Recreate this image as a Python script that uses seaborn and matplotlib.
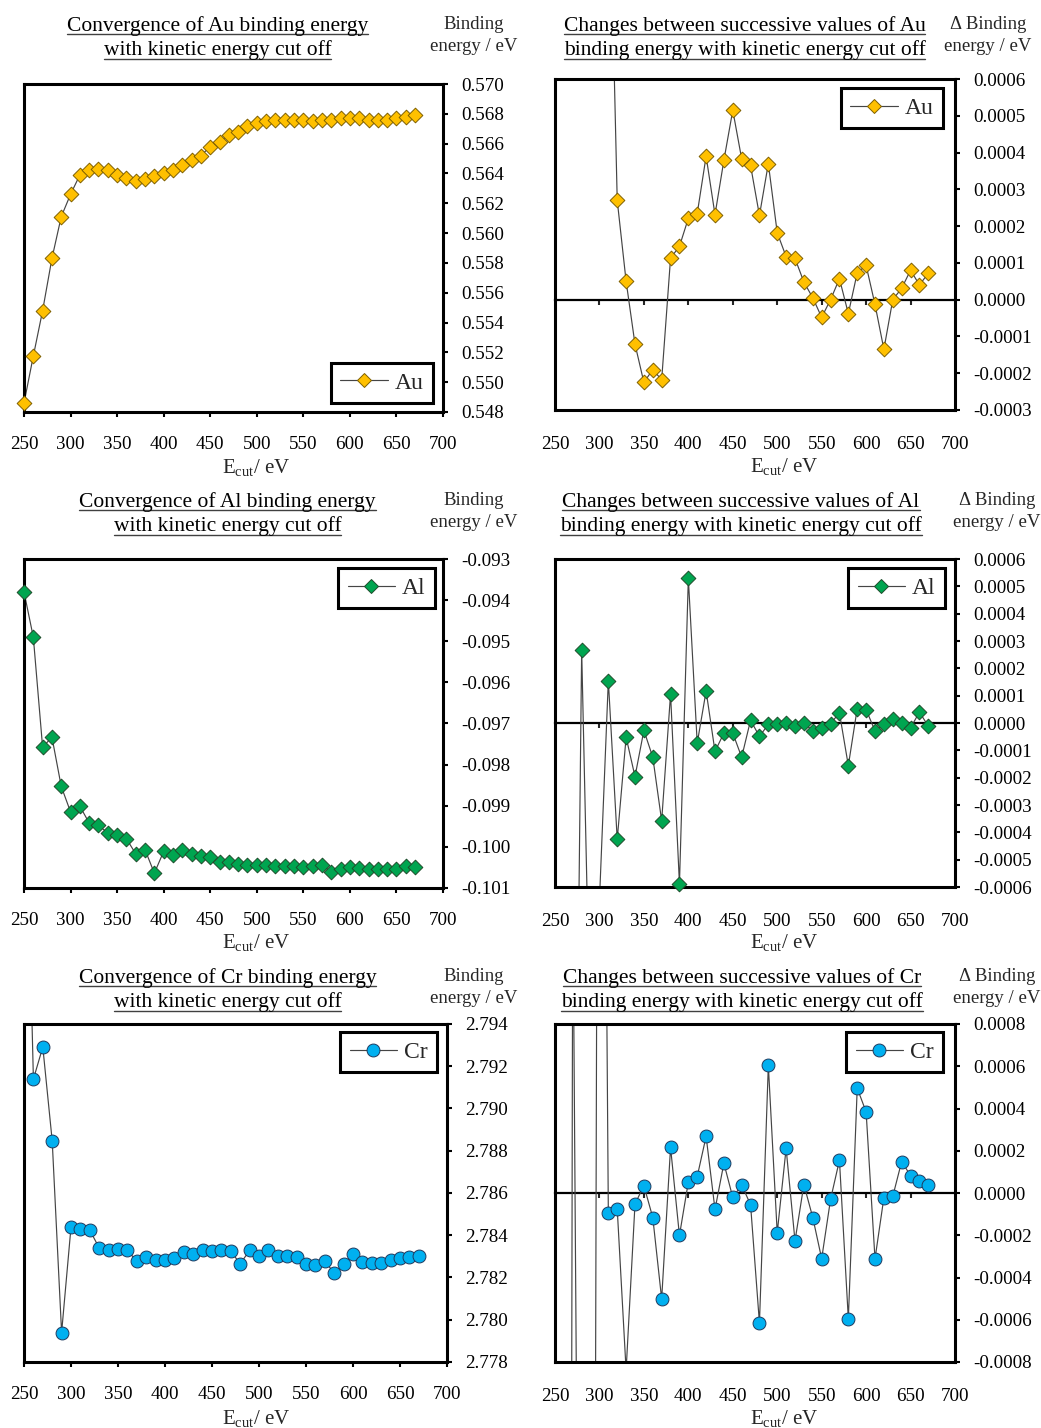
import numpy as np
import matplotlib
matplotlib.use("Agg")
import matplotlib.pyplot as plt
from matplotlib.lines import Line2D
from matplotlib.ticker import FuncFormatter
import seaborn as sns

# Kinetic energy cut-off grid (eV)
ecut = [250, 260, 270, 280, 290, 300, 310, 320, 330, 340, 350, 360, 370, 380,
        390, 400, 410, 420, 430, 440, 450, 460, 470, 480, 490, 500, 510, 520,
        530, 540, 550, 560, 570, 580, 590, 600, 610, 620, 630, 640, 650, 660, 670]
# successive differences start at the second cut-off
ecut_delta = ecut[1:]

# Au binding energy (eV)
au_binding = [0.5486, 0.55175, 0.5548, 0.5583, 0.5611, 0.5626, 0.5639, 0.5642,
              0.5643, 0.5642, 0.5639, 0.5637, 0.5635, 0.5636, 0.5638, 0.5640,
              0.5642, 0.5646, 0.5649, 0.5652, 0.5658, 0.5661, 0.5666, 0.5668,
              0.5672, 0.5674, 0.5675, 0.5676, 0.5676, 0.5676, 0.5676, 0.5675,
              0.5676, 0.5676, 0.5677, 0.5677, 0.5677, 0.5676, 0.5676, 0.5676,
              0.5677, 0.5678, 0.5679]
au_delta = [0.0032, 0.0030, 0.0035, 0.0028, 0.0015, 0.0013,
            0.000270, 0.000050, -0.000121, -0.000225, -0.000190, -0.000218,
            0.000113, 0.000145, 0.000221, 0.000234, 0.000390, 0.000231,
            0.000379, 0.000515, 0.000383, 0.000365, 0.000229, 0.000370,
            0.000182, 0.000117, 0.000112, 0.000048, 0.000005, -0.000048,
            0.000000, 0.000057, -0.000038, 0.000073, 0.000093, -0.000013,
            -0.000135, 0.000000, 0.000031, 0.000080, 0.000040, 0.000072]

# Al binding energy (eV)
al_binding = [-0.09380, -0.09490, -0.09758, -0.09733, -0.09853, -0.09915,
              -0.09901, -0.09942, -0.09948, -0.09966, -0.09970, -0.09980,
              -0.10017, -0.10007, -0.10064, -0.10011, -0.10019, -0.10007,
              -0.10017, -0.10022, -0.10025, -0.10037, -0.10037, -0.10041,
              -0.10043, -0.10043, -0.10043, -0.10046, -0.10046, -0.10047,
              -0.10050, -0.10047, -0.10043, -0.10062, -0.10055, -0.10050,
              -0.10051, -0.10054, -0.10054, -0.10054, -0.10054, -0.10047,
              -0.10050]
al_delta = [-0.0011, -0.00268, 0.000267, -0.0012, -0.00065, 0.000155,
            -0.000426, -0.000052, -0.000196, -0.000027, -0.000125, -0.000358,
            0.000106, -0.000589, 0.000529, -0.000074, 0.000117, -0.000104,
            -0.000037, -0.000037, -0.000125, 0.000010, -0.000049, -0.000005,
            -0.000005, 0.000000, -0.000012, 0.000000, -0.000029, -0.000017,
            -0.000002, 0.000037, -0.000156, 0.000053, 0.000049, -0.000029,
            -0.000005, 0.000013, 0.000000, -0.000018, 0.000040, -0.000012]

# Cr binding energy (eV)
cr_binding = [2.8095, 2.79139, 2.79291, 2.78847, 2.77939, 2.78438, 2.78430,
              2.78424, 2.78340, 2.78332, 2.78337, 2.78329, 2.78277, 2.78298,
              2.78282, 2.78285, 2.78293, 2.78320, 2.78312, 2.78329, 2.78324,
              2.78329, 2.78324, 2.78265, 2.78328, 2.78304, 2.78329, 2.78304,
              2.78304, 2.78298, 2.78265, 2.78258, 2.78280, 2.78219, 2.78266,
              2.78309, 2.78274, 2.78271, 2.78271, 2.78285, 2.78294, 2.78298,
              2.78304]
cr_delta = [-0.0183, 0.0015, -0.0044, -0.0091, 0.0055, -0.000097,
            -0.000075, -0.00084, -0.000052, 0.000035, -0.000116, -0.000502,
            0.000216, -0.000201, 0.000052, 0.000078, 0.000268, -0.000078,
            0.000141, -0.000021, 0.000038, -0.000055, -0.000616, 0.000604,
            -0.000189, 0.000211, -0.000227, 0.000040, -0.000116, -0.000311,
            -0.000030, 0.000155, -0.000596, 0.000496, 0.000384, -0.000312,
            -0.000022, -0.000016, 0.000149, 0.000082, 0.000059, 0.000038]

x_ticks = [250, 300, 350, 400, 450, 500, 550, 600, 650, 700]

sns.set_style("white")
plt.rcParams["font.family"] = ["Liberation Serif", "DejaVu Serif"]
plt.rcParams["mathtext.fontset"] = "custom"
plt.rcParams["mathtext.rm"] = "Liberation Serif"
plt.rcParams["axes.unicode_minus"] = False

W, H = 1041, 1428
fig = plt.figure(figsize=(W / 100, H / 100), dpi=100)
fig.patch.set_facecolor("white")

LINE_COLOR = "#454545"
STYLES = {
    "Au": dict(marker="D", s=56, face="#FFC000", edge="#7F6000"),
    "Al": dict(marker="D", s=56, face="#00A550", edge="#1E4D2B"),
    "Cr": dict(marker="o", s=86, face="#00B0F0", edge="#1F3A5F"),
}

TITLE_FS = 15.5
TICK_FS = 13.7
YLAB_FS = 13.5
XLAB_FS = 15
LEG_FS = 17


def fx(px):
    return px / W


def fy(py):
    return 1 - py / H


underlined = []


def add_title(lines, cx, base1):
    for i, s in enumerate(lines):
        yb = base1 + 25 * i
        t = fig.text(fx(cx), fy(yb), s, ha="center", va="baseline",
                     fontsize=TITLE_FS, color="black")
        underlined.append((t, yb))


def fmt(dec):
    return FuncFormatter(lambda v, pos: f"{0.0 if abs(v) < 1e-12 else v:.{dec}f}")


panels = [
    dict(box=(24, 443, 84, 412), x=ecut, y=au_binding, ylim=(0.548, 0.570), nt=12,
         dec=3, kind="conv", el="Au",
         title=["Convergence of Au binding energy", "with kinetic energy cut off"],
         tcx=217.5, tb=30.5, ylab=["Binding", "energy / eV"], ylx=474, ylb=29,
         xl=(256, 473), leg=("lower right", 433, 403)),
    dict(box=(555, 955, 79, 410), x=ecut_delta, y=au_delta, ylim=(-0.0003, 0.0006), nt=10,
         dec=4, kind="delta", el="Au",
         title=["Changes between successive values of Au",
                "binding energy with kinetic energy cut off"],
         tcx=744.5, tb=30.5, ylab=["\u0394 Binding", "energy / eV"], ylx=988, ylb=29,
         xl=(784, 472), leg=("upper right", 943, 88)),
    dict(box=(24, 443, 559, 888), x=ecut, y=al_binding, ylim=(-0.101, -0.093), nt=9,
         dec=3, kind="conv", el="Al",
         title=["Convergence of Al binding energy", "with kinetic energy cut off"],
         tcx=227.5, tb=506.5, ylab=["Binding", "energy / eV"], ylx=474, ylb=505,
         xl=(256, 948), leg=("upper right", 435, 568)),
    dict(box=(555, 955, 559, 887), x=ecut_delta, y=al_delta, ylim=(-0.0006, 0.0006), nt=13,
         dec=4, kind="delta", el="Al",
         title=["Changes between successive values of Al",
                "binding energy with kinetic energy cut off"],
         tcx=741, tb=506.5, ylab=["\u0394 Binding", "energy / eV"], ylx=997, ylb=505,
         xl=(784, 948), leg=("upper right", 945, 568)),
    dict(box=(24, 447, 1024, 1362), x=ecut, y=cr_binding, ylim=(2.778, 2.794), nt=9,
         dec=3, kind="conv", el="Cr",
         title=["Convergence of Cr binding energy", "with kinetic energy cut off"],
         tcx=227.5, tb=982.5, ylab=["Binding", "energy / eV"], ylx=474, ylb=981,
         xl=(256, 1424), leg=("upper right", 437, 1032)),
    dict(box=(555, 955, 1024, 1362), x=ecut_delta, y=cr_delta, ylim=(-0.0008, 0.0008), nt=9,
         dec=4, kind="delta", el="Cr",
         title=["Changes between successive values of Cr",
                "binding energy with kinetic energy cut off"],
         tcx=742, tb=982.5, ylab=["\u0394 Binding", "energy / eV"], ylx=997, ylb=981,
         xl=(784, 1424), leg=("upper right", 943, 1032)),
]

for p in panels:
    left, right, top, bottom = p["box"]
    ax = fig.add_axes([fx(left), fy(bottom), (right - left) / W, (bottom - top) / H])
    st = STYLES[p["el"]]
    x = np.asarray(p["x"], dtype=float)
    y = np.asarray(p["y"], dtype=float)
    lo, hi = p["ylim"]

    # connecting line, clipped to the plot area
    sns.lineplot(x=x, y=y, ax=ax, color=LINE_COLOR, lw=0.85, sort=False,
                 estimator=None, zorder=2)
    # markers for the points that fall inside the value range
    inside = (y >= lo - 1e-12) & (y <= hi + 1e-12)
    sns.scatterplot(x=x[inside], y=y[inside], ax=ax, marker=st["marker"], s=st["s"],
                    color=st["face"], edgecolor=st["edge"], linewidth=0.7,
                    clip_on=False, zorder=4, legend=False)

    ax.set_xlim(250, 700)
    ax.set_ylim(lo, hi)
    ax.set_xticks(x_ticks)
    ax.set_yticks(np.linspace(lo, hi, p["nt"]))
    ax.yaxis.tick_right()
    ax.yaxis.set_major_formatter(fmt(p["dec"]))
    ax.set_xlabel("")
    ax.set_ylabel("")
    for sp in ax.spines.values():
        sp.set_visible(True)
        sp.set_linewidth(2.2)
        sp.set_color("black")
    ax.tick_params(axis="y", which="major", direction="out", length=3.6, width=1.5,
                   pad=9.4, labelsize=TICK_FS, colors="black", right=True, left=False)
    if p["kind"] == "conv":
        ax.tick_params(axis="x", direction="out", length=3.6, width=1.5, pad=14,
                       labelsize=TICK_FS, colors="black", bottom=True)
    else:
        ax.tick_params(axis="x", direction="out", length=0, pad=18.4,
                       labelsize=TICK_FS, colors="black", bottom=True)
        zero_loc = (0 - lo) / (hi - lo)
        sec = ax.secondary_xaxis(zero_loc)
        sec.set_alignment("bottom")
        sec.set_xticks(x_ticks[1:-1])
        sec.tick_params(axis="x", direction="out", length=3.6, width=1.5,
                        labelbottom=False, labeltop=False)
        sec.spines["bottom"].set_linewidth(1.6)
        sec.spines["bottom"].set_color("black")

    handle = Line2D([], [], color=LINE_COLOR, lw=0.85, marker=st["marker"],
                    markersize=np.sqrt(st["s"]), markerfacecolor=st["face"],
                    markeredgecolor=st["edge"], markeredgewidth=0.7)
    loc, lx, ly = p["leg"]
    leg = ax.legend([handle], [p["el"]], loc=loc, bbox_to_anchor=(fx(lx), fy(ly)),
                    bbox_transform=fig.transFigure, borderaxespad=0, fontsize=LEG_FS,
                    frameon=True, fancybox=False, framealpha=1, handlelength=2.0,
                    handletextpad=0.3, borderpad=0.4, numpoints=1)
    leg.get_frame().set_linewidth(2.2)
    leg.get_frame().set_edgecolor("black")

    add_title(p["title"], p["tcx"], p["tb"])
    fig.text(fx(p["ylx"]), fy(p["ylb"]), p["ylab"][0], ha="center", va="baseline",
             fontsize=YLAB_FS)
    fig.text(fx(p["ylx"]), fy(p["ylb"] + 22), p["ylab"][1], ha="center", va="baseline",
             fontsize=YLAB_FS)
    fig.text(fx(p["xl"][0]), fy(p["xl"][1]), r"E$_{\mathregular{cut}}$/ eV",
             ha="center", va="baseline", fontsize=XLAB_FS)

# underline the panel titles
fig.canvas.draw()
renderer = fig.canvas.get_renderer()
for t, yb in underlined:
    bb = t.get_window_extent(renderer)
    yl = (H - yb - 3.5) / H
    fig.add_artist(Line2D([bb.x0 / W, bb.x1 / W], [yl, yl], transform=fig.transFigure,
                          color="#404040", lw=1.0))

fig.savefig("out.png", dpi=100, facecolor="white")
